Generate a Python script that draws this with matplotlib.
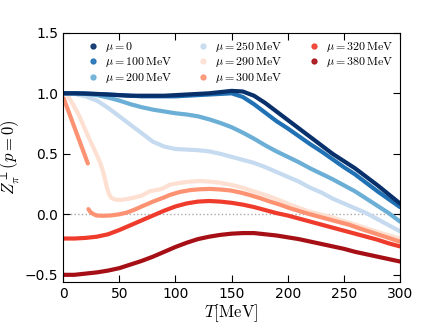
import matplotlib
matplotlib.use("Agg")
import matplotlib.pyplot as plt
from matplotlib.lines import Line2D

plt.rcParams['mathtext.fontset'] = 'cm'

T = [0, 10, 20, 30, 40, 50, 60, 70, 80, 90, 100, 110, 120, 130, 140, 150,
     160, 170, 180, 190, 200, 210, 220, 230, 240, 250, 260, 270, 280, 290, 300]

z_mu0 = [1.0, 1.0, 0.998, 0.995, 0.99, 0.985, 0.98, 0.98, 0.98, 0.98, 0.985, 0.99, 0.995, 1.0, 1.01, 1.02,
         1.015, 0.98, 0.92, 0.85, 0.78, 0.71, 0.64, 0.57, 0.5, 0.44, 0.38, 0.31, 0.24, 0.165, 0.09]
z_mu100 = [1.0, 1.0, 0.998, 0.993, 0.99, 0.985, 0.98, 0.975, 0.975, 0.975, 0.975, 0.98, 0.985, 0.99, 0.995, 1.0,
           0.97, 0.91, 0.84, 0.77, 0.71, 0.645, 0.58, 0.52, 0.455, 0.39, 0.33, 0.26, 0.19, 0.125, 0.06]
z_mu200 = [1.0, 1.0, 0.995, 0.985, 0.965, 0.94, 0.91, 0.885, 0.865, 0.85, 0.835, 0.825, 0.81, 0.785, 0.755, 0.72,
           0.675, 0.625, 0.57, 0.52, 0.475, 0.43, 0.38, 0.335, 0.29, 0.24, 0.19, 0.13, 0.07, 0.01, -0.06]
z_mu250 = [1.0, 0.995, 0.975, 0.94, 0.88, 0.81, 0.74, 0.67, 0.6, 0.56, 0.54, 0.535, 0.53, 0.52, 0.5, 0.475,
           0.45, 0.425, 0.39, 0.35, 0.31, 0.27, 0.22, 0.18, 0.13, 0.09, 0.05, 0.01, -0.04, -0.09, -0.14]

T_mu290 = [0, 3, 6, 9, 12, 15, 18, 21, 24, 27, 30, 33, 35, 37, 39, 41, 43, 47, 52, 58, 64, 70, 77, 88, 95,
           104, 113, 122, 131, 140, 149, 158, 166, 175, 184, 193, 202, 211, 220, 229, 238, 246, 255,
           265, 275, 285, 300]
z_mu290 = [1.0, 1.0, 0.95, 0.905, 0.855, 0.8, 0.735, 0.67, 0.61, 0.55, 0.49, 0.425, 0.37, 0.3, 0.22, 0.165,
           0.135, 0.12, 0.12, 0.128, 0.14, 0.155, 0.19, 0.21, 0.245, 0.26, 0.27, 0.275, 0.27, 0.26, 0.245,
           0.225, 0.2, 0.175, 0.147, 0.115, 0.08, 0.05, 0.02, 0.0, -0.02, -0.045, -0.07, -0.1, -0.13,
           -0.16, -0.2]

T_mu300a = [0.5, 2, 4, 6, 8, 10, 12, 14, 16, 18, 20, 22]
z_mu300a = [0.96, 0.92, 0.87, 0.82, 0.77, 0.72, 0.67, 0.62, 0.57, 0.52, 0.47, 0.42]
T_mu300b = [22.5, 24, 25.5, 28, 30, 35, 42, 50, 57, 64, 70, 80, 90, 95, 104, 113, 122, 131, 140,
            149, 158, 166, 175, 184, 193, 202, 211, 220, 229, 238, 246, 255, 265, 275, 285, 300]
z_mu300b = [0.043, 0.022, 0.01, -0.003, -0.01, -0.012, -0.01, 0.0, 0.015, 0.04, 0.065, 0.105, 0.14,
            0.16, 0.185, 0.2, 0.207, 0.21, 0.205, 0.197, 0.18, 0.16, 0.135, 0.106, 0.08, 0.05, 0.025,
            0.0, -0.022, -0.045, -0.065, -0.087, -0.12, -0.15, -0.18, -0.226]

z_mu320 = [-0.2, -0.2, -0.195, -0.185, -0.165, -0.13, -0.09, -0.05, -0.01, 0.03, 0.065, 0.09, 0.105, 0.11,
           0.105, 0.095, 0.08, 0.06, 0.035, 0.01, -0.01, -0.035, -0.06, -0.085, -0.11, -0.135, -0.16,
           -0.185, -0.21, -0.24, -0.265]
z_mu380 = [-0.5, -0.5, -0.49, -0.48, -0.465, -0.445, -0.415, -0.385, -0.35, -0.31, -0.27, -0.235, -0.205,
           -0.185, -0.17, -0.16, -0.155, -0.155, -0.165, -0.175, -0.19, -0.205, -0.225, -0.245, -0.265,
           -0.285, -0.31, -0.33, -0.35, -0.37, -0.39]

labels = [r'$\mu=0$', r'$\mu=100\,\mathrm{MeV}$', r'$\mu=200\,\mathrm{MeV}$', r'$\mu=250\,\mathrm{MeV}$',
          r'$\mu=290\,\mathrm{MeV}$', r'$\mu=300\,\mathrm{MeV}$', r'$\mu=320\,\mathrm{MeV}$',
          r'$\mu=380\,\mathrm{MeV}$']
colors = ['#08306b', '#2171b5', '#6baed6', '#c6dbef', '#fee0d2', '#fc9272', '#ef3b2c', '#a50f15']

fig = plt.figure(figsize=(4.21, 3.28), dpi=100)
ax = fig.add_axes([0.15, 0.14, 0.80, 0.76])

lw = 3.0
ax.axhline(0, color='#aaaaaa', ls=':', lw=1, zorder=0)
# draw from light to dark so the dark ones sit on top, like the reference
ax.plot(T_mu290, z_mu290, color=colors[4], lw=lw, solid_capstyle='round')
ax.plot(T, z_mu250, color=colors[3], lw=lw, solid_capstyle='round')
ax.plot(T, z_mu200, color=colors[2], lw=lw, solid_capstyle='round')
ax.plot(T_mu300a, z_mu300a, color=colors[5], lw=lw, solid_capstyle='round')
ax.plot(T_mu300b, z_mu300b, color=colors[5], lw=lw, solid_capstyle='round')
ax.plot(T, z_mu320, color=colors[6], lw=lw, solid_capstyle='round')
ax.plot(T, z_mu380, color=colors[7], lw=lw, solid_capstyle='round')
ax.plot(T, z_mu100, color=colors[1], lw=lw, solid_capstyle='round')
ax.plot(T, z_mu0, color=colors[0], lw=lw, solid_capstyle='round')

ax.set_xlim(0, 300)
ax.set_ylim(-0.56, 1.5)
ax.set_xticks([0, 50, 100, 150, 200, 250, 300])
ax.set_yticks([-0.5, 0.0, 0.5, 1.0, 1.5])
ax.tick_params(direction='in', top=True, right=True, labelsize=10, length=5)
ax.set_xlabel(r'$T[\mathrm{MeV}]$', fontsize=12, labelpad=1)
ax.set_ylabel(r'$Z_\pi^\perp(p=0)$', fontsize=12, labelpad=2)

handles = [Line2D([], [], marker='o', ls='none', color=c, markersize=3.5, alpha=0.9) for c in colors]
ax.legend(handles, labels, ncol=3, loc='upper left', frameon=False, fontsize=8.6,
          bbox_to_anchor=(0.025, 1.01), handletextpad=0.0, columnspacing=1.6, labelspacing=0.12,
          borderaxespad=0.4)

fig.savefig('out.png', dpi=100)
